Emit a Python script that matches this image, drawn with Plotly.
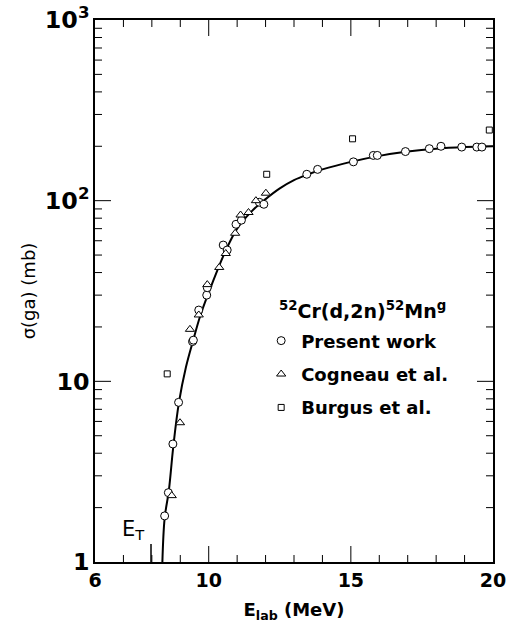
import plotly.graph_objects as go
import math

# Present work (circles)
present_E = [8.38, 8.45, 8.58, 8.74, 8.94, 9.43, 9.46, 9.65, 9.93, 9.95, 10.51, 10.65,
             10.96, 11.15, 11.78, 11.94, 13.45, 13.83, 15.09, 15.79, 15.93, 16.92,
             17.76, 18.17, 18.90, 19.43, 19.61]
present_S = [0.92, 1.80, 2.42, 4.50, 7.65, 16.6, 16.9, 24.8, 30.0, 33.0, 56.8, 53.3,
             74.0, 78.0, 98.0, 95.5, 140, 149, 164, 178, 178, 187,
             194, 200, 198, 198, 198]

# Cogneau et al. (triangles)
cogneau_E = [8.70, 8.99, 9.34, 9.65, 9.95, 10.37, 10.60, 10.93, 11.12, 11.40, 11.66, 12.01]
cogneau_S = [2.33, 5.90, 19.4, 23.3, 34.3, 42.7, 51.0, 66.0, 83.3, 86.0, 100, 110]

# Burgus et al. (squares)
burgus_E = [8.54, 12.04, 15.06, 19.87]
burgus_S = [11.0, 140, 220, 246]

# Fitted curve
curve_E = [8.37, 8.45, 8.60, 8.75, 8.95, 9.20, 9.45, 9.70, 10.0, 10.3, 10.6, 11.0,
           11.5, 12.0, 12.5, 13.0, 13.5, 14.0, 15.0, 16.0, 17.0, 18.0, 19.0, 20.0]
curve_S = [1.0, 1.75, 2.5, 4.3, 7.6, 12.0, 16.8, 23.0, 31.0, 41.0, 53.0, 70.0,
           87.0, 102, 117, 130, 140, 149, 164, 177, 187, 194, 198, 200]

# Axis ticks
x_ticks = [6, 10, 15, 20]
x_ticktext = ["<b>6</b>", "<b>10</b>", "<b>15</b>", "<b>20</b>"]
x_major_marks = [10, 15]
x_minor_marks = [7, 8, 9, 11, 12, 13, 14, 16, 17, 18, 19]
y_major_marks = [10, 100]
y_minor_marks = [2, 3, 4, 5, 6, 7, 8, 9, 20, 30, 40, 50, 60, 70, 80, 90,
                 200, 300, 400, 500, 600, 700, 800, 900]
X_RANGE = [6, 20]
Y_RANGE_LOG = [0, 3]
ET = 7.97

FONT = "DejaVu Sans"
MAJOR_LEN = 16
MINOR_LEN = 7

fig = go.Figure()
fig.add_trace(go.Scatter(x=curve_E, y=curve_S, mode="lines",
                         line=dict(color="black", width=2, shape="spline"),
                         showlegend=False, hoverinfo="skip"))
fig.add_trace(go.Scatter(x=present_E, y=present_S, mode="markers",
                         name="<b>Present work</b>",
                         legendgroup="a", cliponaxis=False,
                         marker=dict(symbol="circle", size=8, color="white",
                                     line=dict(color="black", width=1))))
fig.add_trace(go.Scatter(x=cogneau_E, y=cogneau_S, mode="markers",
                         name="<b>Cogneau et al.</b>",
                         legendgroup="b",
                         marker=dict(symbol="triangle-up", size=8, color="white",
                                     line=dict(color="black", width=1))))
fig.add_trace(go.Scatter(x=burgus_E, y=burgus_S, mode="markers",
                         name="<b>Burgus et al.</b>",
                         legendgroup="c", cliponaxis=False,
                         marker=dict(symbol="square", size=6, color="white",
                                     line=dict(color="black", width=1))))

tick_line = dict(color="black", width=1)


def xfrac(v):
    return (v - X_RANGE[0]) / (X_RANGE[1] - X_RANGE[0])


def yfrac(v):
    return (math.log10(v) - Y_RANGE_LOG[0]) / (Y_RANGE_LOG[1] - Y_RANGE_LOG[0])


# inward tick marks on all four sides
for vals, ln in [(x_major_marks, MAJOR_LEN), (x_minor_marks, MINOR_LEN)]:
    for v in vals:
        f = xfrac(v)
        fig.add_shape(type="line", xref="x domain", yref="y domain", ysizemode="pixel",
                      yanchor=0, x0=f, x1=f, y0=0, y1=ln, line=tick_line)
        fig.add_shape(type="line", xref="x domain", yref="y domain", ysizemode="pixel",
                      yanchor=1, x0=f, x1=f, y0=0, y1=-ln, line=tick_line)
for vals, ln in [(y_major_marks, MAJOR_LEN), (y_minor_marks, MINOR_LEN)]:
    for v in vals:
        f = yfrac(v)
        fig.add_shape(type="line", xref="x domain", yref="y domain", xsizemode="pixel",
                      xanchor=0, x0=0, x1=ln, y0=f, y1=f, line=tick_line)
        fig.add_shape(type="line", xref="x domain", yref="y domain", xsizemode="pixel",
                      xanchor=1, x0=0, x1=-ln, y0=f, y1=f, line=tick_line)

# threshold marker
fig.add_shape(type="line", xref="x domain", yref="y domain", ysizemode="pixel",
              yanchor=0, x0=xfrac(ET), x1=xfrac(ET), y0=0, y1=18,
              line=dict(color="black", width=1.5))
fig.add_annotation(x=ET, xref="x", y=math.log10(1.5), yref="y", text="E<sub>T</sub>",
                   showarrow=False, xanchor="right", xshift=-4,
                   font=dict(family=FONT, size=21, color="black"))
fig.add_annotation(x=0.457, xref="paper", y=0.465, yref="paper",
                   text="<b><sup>52</sup>Cr(d,2n)<sup>52</sup>Mn<sup>g</sup></b>",
                   showarrow=False, xanchor="left", yanchor="middle",
                   font=dict(family=FONT, size=19, color="black"))

tickfont = dict(family=FONT, size=19, color="black")

fig.update_layout(
    width=508, height=630,
    margin=dict(l=95, r=15, t=20, b=68),
    plot_bgcolor="white", paper_bgcolor="white",
    showlegend=True,
    xaxis=dict(range=X_RANGE, tickmode="array", tickvals=x_ticks, ticktext=x_ticktext,
               ticks="", showline=True, linecolor="black", linewidth=1.5, mirror=True,
               showgrid=False, zeroline=False, automargin=False, tickfont=tickfont,
               title=dict(text="<b>E<sub>lab</sub> (MeV)</b>", standoff=14,
                          font=dict(family=FONT, size=18, color="black"))),
    yaxis=dict(type="log", range=Y_RANGE_LOG, dtick=1, exponentformat="power",
               tickprefix="<b>", ticksuffix="</b>", ticks="",
               showline=True, linecolor="black", linewidth=1.5, mirror=True,
               showgrid=False, zeroline=False, automargin=False, tickfont=tickfont,
               title=dict(text="σ(ga) (mb)", standoff=5,
                          font=dict(family=FONT, size=18, color="black"))),
    legend=dict(x=0.4175, y=0.442, xanchor="left", yanchor="top",
                bgcolor="rgba(0,0,0,0)", borderwidth=0,
                tracegroupgap=7,
                font=dict(family=FONT, size=18, color="black")),
)

fig.write_html("out.html")
